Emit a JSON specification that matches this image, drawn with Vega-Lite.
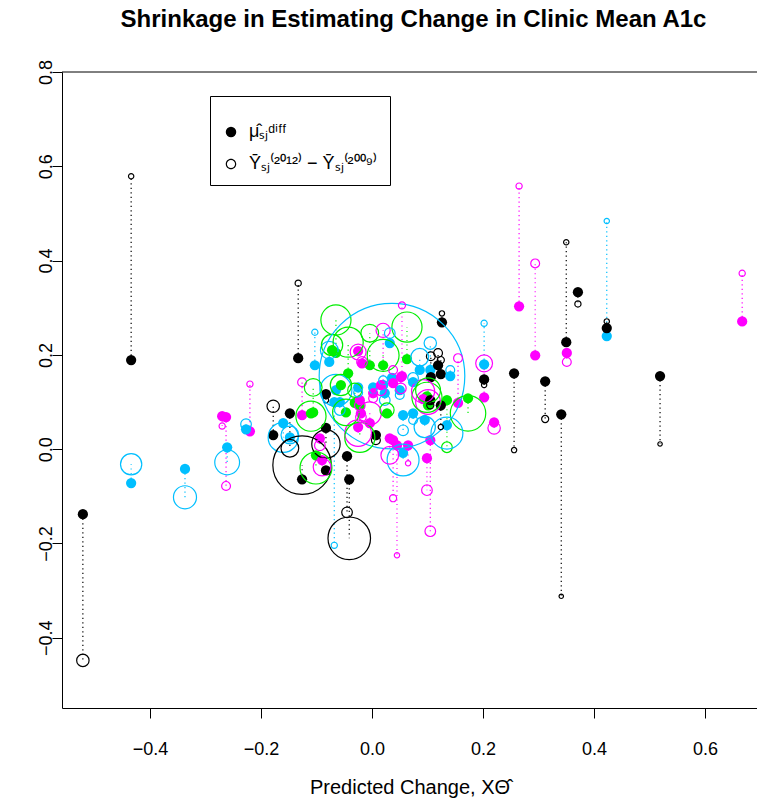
{
  "$schema": "https://vega.github.io/schema/vega-lite/v6.json",
  "width": 695,
  "height": 636,
  "autosize": {"type": "none"},
  "padding": {"left": 62, "top": 72, "right": 0, "bottom": 93},
  "background": "white",
  "title": {"text": "Shrinkage in Estimating Change in Clinic Mean A1c", "font": "Liberation Sans", "fontSize": 24, "fontWeight": "bold", "anchor": "middle", "frame": "group", "baseline": "alphabetic", "offset": 8, "dx": 4, "color": "black"},
  "config": {
    "view": {"stroke": null},
    "axis": {"domainColor": "black", "tickColor": "black", "labelColor": "black", "titleColor": "black", "grid": false, "labelFont": "Liberation Sans", "titleFont": "Liberation Sans", "labelFontSize": 18, "tickSize": 10, "domainWidth": 1, "tickWidth": 1}
  },
  "data": {"values": [
    {"g":"B","x":-0.521,"mu":-0.138,"ybar":-0.448,"n":196},
    {"g":"B","x":-0.434,"mu":0.189,"ybar":0.579,"n":36},
    {"g":"C","x":-0.434,"mu":-0.072,"ybar":-0.032,"n":576},
    {"g":"C","x":-0.337,"mu":-0.042,"ybar":-0.102,"n":676},
    {"g":"M","x":-0.270,"mu":0.070,"ybar":0.049,"n":49},
    {"g":"M","x":-0.263,"mu":0.068,"ybar":-0.078,"n":100},
    {"g":"C","x":-0.261,"mu":0.004,"ybar":-0.028,"n":784},
    {"g":"M","x":-0.220,"mu":0.038,"ybar":0.138,"n":49},
    {"g":"C","x":-0.227,"mu":0.042,"ybar":0.053,"n":144},
    {"g":"B","x":-0.178,"mu":0.030,"ybar":0.091,"n":196},
    {"g":"C","x":-0.160,"mu":0.055,"ybar":0.025,"n":1156},
    {"g":"C","x":-0.148,"mu":0.025,"ybar":0.030,"n":400},
    {"g":"B","x":-0.148,"mu":0.076,"ybar":0.002,"n":400},
    {"g":"B","x":-0.133,"mu":0.193,"ybar":0.352,"n":49},
    {"g":"B","x":-0.126,"mu":-0.064,"ybar":-0.034,"n":4356},
    {"g":"M","x":-0.126,"mu":0.072,"ybar":0.142,"n":100},
    {"g":"G","x":-0.110,"mu":0.076,"ybar":0.070,"n":1156},
    {"g":"C","x":-0.103,"mu":0.178,"ybar":0.248,"n":49},
    {"g":"C","x":-0.077,"mu":0.185,"ybar":0.210,"n":400},
    {"g":"G","x":-0.065,"mu":0.204,"ybar":0.274,"n":1156},
    {"g":"G","x":-0.043,"mu":0.161,"ybar":0.227,"n":1156},
    {"g":"G","x":-0.072,"mu":0.210,"ybar":0.221,"n":576},
    {"g":"B","x":-0.083,"mu":0.117,"ybar":0.104,"n":36},
    {"g":"B","x":-0.083,"mu":0.045,"ybar":0.011,"n":1024},
    {"g":"G","x":-0.101,"mu":-0.013,"ybar":-0.040,"n":1296},
    {"g":"M","x":-0.090,"mu":-0.023,"ybar":-0.038,"n":400},
    {"g":"B","x":-0.083,"mu":-0.045,"ybar":-0.049,"n":25},
    {"g":"B","x":-0.045,"mu":-0.015,"ybar":-0.134,"n":144},
    {"g":"B","x":-0.041,"mu":-0.064,"ybar":-0.189,"n":2304},
    {"g":"C","x":-0.068,"mu":0.100,"ybar":-0.204,"n":49},
    {"g":"C","x":-0.065,"mu":0.125,"ybar":0.125,"n":1296},
    {"g":"M","x":-0.025,"mu":0.208,"ybar":0.206,"n":324},
    {"g":"M","x":-0.018,"mu":0.182,"ybar":0.185,"n":144},
    {"g":"G","x":-0.004,"mu":0.178,"ybar":0.246,"n":400},
    {"g":"C","x":0.036,"mu":0.151,"ybar":0.155,"n":27000},
    {"g":"M","x":0.054,"mu":0.155,"ybar":0.305,"n":64},
    {"g":"G","x":0.063,"mu":0.191,"ybar":0.259,"n":1156},
    {"g":"M","x":0.020,"mu":0.136,"ybar":0.252,"n":256},
    {"g":"G","x":0.020,"mu":0.178,"ybar":0.199,"n":1296},
    {"g":"C","x":0.032,"mu":0.225,"ybar":0.246,"n":144},
    {"g":"B","x":0.126,"mu":0.269,"ybar":0.288,"n":36},
    {"g":"C","x":0.105,"mu":0.168,"ybar":0.225,"n":196},
    {"g":"B","x":0.106,"mu":0.153,"ybar":0.197,"n":100},
    {"g":"B","x":0.124,"mu":0.159,"ybar":0.189,"n":64},
    {"g":"B","x":0.119,"mu":0.178,"ybar":0.204,"n":100},
    {"g":"M","x":0.155,"mu":0.098,"ybar":0.193,"n":100},
    {"g":"C","x":0.202,"mu":0.180,"ybar":0.267,"n":49},
    {"g":"M","x":0.202,"mu":0.110,"ybar":0.182,"n":361},
    {"g":"B","x":0.202,"mu":0.148,"ybar":0.136,"n":36},
    {"g":"B","x":0.256,"mu":0.161,"ybar":-0.002,"n":36},
    {"g":"M","x":0.265,"mu":0.303,"ybar":0.558,"n":49},
    {"g":"M","x":0.294,"mu":0.199,"ybar":0.394,"n":100},
    {"g":"B","x":0.312,"mu":0.144,"ybar":0.064,"n":64},
    {"g":"B","x":0.341,"mu":0.074,"ybar":-0.312,"n":25},
    {"g":"B","x":0.350,"mu":0.227,"ybar":0.439,"n":36},
    {"g":"M","x":0.351,"mu":0.204,"ybar":0.185,"n":100},
    {"g":"B","x":0.371,"mu":0.333,"ybar":0.308,"n":49},
    {"g":"C","x":0.423,"mu":0.240,"ybar":0.484,"n":36},
    {"g":"B","x":0.423,"mu":0.257,"ybar":0.271,"n":36},
    {"g":"B","x":0.519,"mu":0.155,"ybar":0.011,"n":25},
    {"g":"M","x":0.667,"mu":0.271,"ybar":0.373,"n":49},
    {"g":"M","x":0.220,"mu":0.057,"ybar":0.045,"n":196},
    {"g":"G","x":0.173,"mu":0.108,"ybar":0.076,"n":1600},
    {"g":"M","x":0.038,"mu":0.019,"ybar":-0.104,"n":64},
    {"g":"M","x":0.045,"mu":0.008,"ybar":-0.225,"n":36},
    {"g":"M","x":0.099,"mu":-0.019,"ybar":-0.087,"n":144},
    {"g":"M","x":0.105,"mu":0.019,"ybar":-0.174,"n":144},
    {"g":"C","x":0.056,"mu":-0.008,"ybar":-0.023,"n":1296},
    {"g":"M","x":0.032,"mu":0.023,"ybar":-0.013,"n":400},
    {"g":"M","x":0.065,"mu":0.008,"ybar":-0.030,"n":36},
    {"g":"G","x":0.135,"mu":0.104,"ybar":0.004,"n":144},
    {"g":"B","x":0.124,"mu":0.093,"ybar":0.047,"n":36},
    {"g":"B","x":0.007,"mu":0.030,"ybar":0.019,"n":100},
    {"g":"C","x":0.095,"mu":0.062,"ybar":0.047,"n":576},
    {"g":"C","x":0.135,"mu":0.051,"ybar":0.034,"n":1296},
    {"g":"M","x":0.101,"mu":0.108,"ybar":0.100,"n":784},
    {"g":"G","x":0.099,"mu":0.112,"ybar":0.110,"n":1156},
    {"g":"M","x":0.092,"mu":0.106,"ybar":0.123,"n":676},
    {"g":"G","x":0.101,"mu":0.093,"ybar":0.125,"n":784},
    {"g":"B","x":0.105,"mu":0.104,"ybar":0.093,"n":64},
    {"g":"M","x":-0.025,"mu":0.047,"ybar":0.034,"n":900},
    {"g":"G","x":-0.022,"mu":0.091,"ybar":0.025,"n":1156},
    {"g":"M","x":-0.004,"mu":0.055,"ybar":0.076,"n":676},
    {"g":"G","x":-0.056,"mu":0.136,"ybar":0.136,"n":576},
    {"g":"G","x":-0.047,"mu":0.078,"ybar":0.078,"n":900},
    {"g":"C","x":0.002,"mu":0.131,"ybar":0.125,"n":64},
    {"g":"C","x":0.020,"mu":0.136,"ybar":0.146,"n":100},
    {"g":"C","x":0.074,"mu":0.142,"ybar":0.151,"n":144},
    {"g":"C","x":0.050,"mu":0.125,"ybar":0.115,"n":100},
    {"g":"C","x":0.023,"mu":0.119,"ybar":0.104,"n":144},
    {"g":"C","x":0.056,"mu":0.072,"ybar":0.040,"n":144},
    {"g":"C","x":0.074,"mu":0.076,"ybar":0.062,"n":100},
    {"g":"C","x":0.141,"mu":0.155,"ybar":0.168,"n":100},
    {"g":"C","x":0.086,"mu":0.168,"ybar":0.195,"n":400},
    {"g":"M","x":0.038,"mu":0.140,"ybar":0.168,"n":100},
    {"g":"M","x":0.016,"mu":0.136,"ybar":0.125,"n":144},
    {"g":"M","x":0.002,"mu":0.119,"ybar":0.108,"n":100},
    {"g":"M","x":-0.020,"mu":0.076,"ybar":0.068,"n":144},
    {"g":"M","x":-0.094,"mu":0.023,"ybar":0.008,"n":144},
    {"g":"M","x":0.052,"mu":0.153,"ybar":0.129,"n":144},
    {"g":"G","x":-0.106,"mu":0.078,"ybar":0.131,"n":400},
    {"g":"G","x":-0.031,"mu":0.098,"ybar":0.125,"n":256},
    {"g":"G","x":0.027,"mu":0.076,"ybar":0.083,"n":256},
    {"g":"C","x":-0.058,"mu":0.100,"ybar":0.083,"n":144},
    {"g":"M","x":-0.022,"mu":0.104,"ybar":0.093,"n":144},
    {"g":"C","x":-0.025,"mu":0.131,"ybar":0.120,"n":100}
  ]},
  "encoding": {
    "x": {"field": "x", "type": "quantitative", "scale": {"domain": [-0.5586, 0.6937], "nice": false, "zero": false},
      "axis": {"values": [-0.4, -0.2, 0, 0.2, 0.4, 0.6], "format": ".1f", "labelPadding": 22, "title": "Predicted Change, XΘ̂", "titleFontSize": 20, "titleFontWeight": "normal", "titlePadding": 19}},
    "color": {"field": "g", "type": "nominal", "scale": {"domain": ["B", "C", "G", "M"], "range": ["#000000", "#00BFFF", "#00EE00", "#FF00FF"]}, "legend": null}
  },
  "layer": [
    {
      "data": {"values": [{}]},
      "mark": {"type": "rule", "color": "black", "strokeWidth": 1},
      "encoding": {"y": {"datum": 0.8, "type": "quantitative"}, "x": null, "color": null}
    },
    {
      "mark": {"type": "rule", "strokeDash": [1.2, 3.3], "strokeWidth": 1.2},
      "encoding": {
        "y": {"field": "mu", "type": "quantitative", "scale": {"domain": [-0.549, 0.8], "nice": false, "zero": false},
          "axis": {"values": [-0.4, -0.2, 0, 0.2, 0.4, 0.6, 0.8], "format": ".1f", "labelAngle": -90, "labelAlign": "center", "labelBaseline": "alphabetic", "labelPadding": 1, "title": null}},
        "y2": {"field": "ybar"}
      }
    },
    {
      "mark": {"type": "point", "filled": true, "opacity": 1, "size": 105},
      "encoding": {
        "y": {"field": "mu", "type": "quantitative"},
        "shape": {"datum": "mu", "type": "nominal",
          "scale": {"domain": ["mu", "ybar"], "range": ["circle", "M-1,0A1,1,0,1,0,1,0A1,1,0,1,0,-1,0ZM-0.78,0A0.78,0.78,0,1,1,0.78,0A0.78,0.78,0,1,1,-0.78,0Z"]},
          "legend": {"title": " ", "titleFontSize": 13, "titlePadding": 2, "orient": "none", "legendX": 148, "legendY": 24, "direction": "vertical",
            "strokeColor": "black", "fillColor": "white", "padding": 12, "rowPadding": 14,
            "symbolSize": 110, "symbolFillColor": "black", "symbolStrokeColor": "black", "symbolStrokeWidth": 0, "symbolOpacity": 1,
            "labelFont": "Liberation Sans", "labelFontSize": 18, "labelColor": "black", "labelOffset": 9, "labelLimit": 300,
            "labelExpr": "datum.value === 'mu' ? 'μ̂ₛⱼᵈⁱᶠᶠ' : 'Ȳₛⱼ⁽²⁰¹²⁾ − Ȳₛⱼ⁽²⁰⁰⁹⁾'"}}
      }
    },
    {
      "mark": {"type": "point", "filled": false, "opacity": 1, "strokeWidth": 1.2, "shape": "circle"},
      "encoding": {
        "y": {"field": "ybar", "type": "quantitative"},
        "size": {"field": "n", "type": "quantitative", "scale": {"type": "linear", "domain": [0, 10000], "range": [0, 7854], "zero": true}, "legend": null}
      }
    }
  ]
}
